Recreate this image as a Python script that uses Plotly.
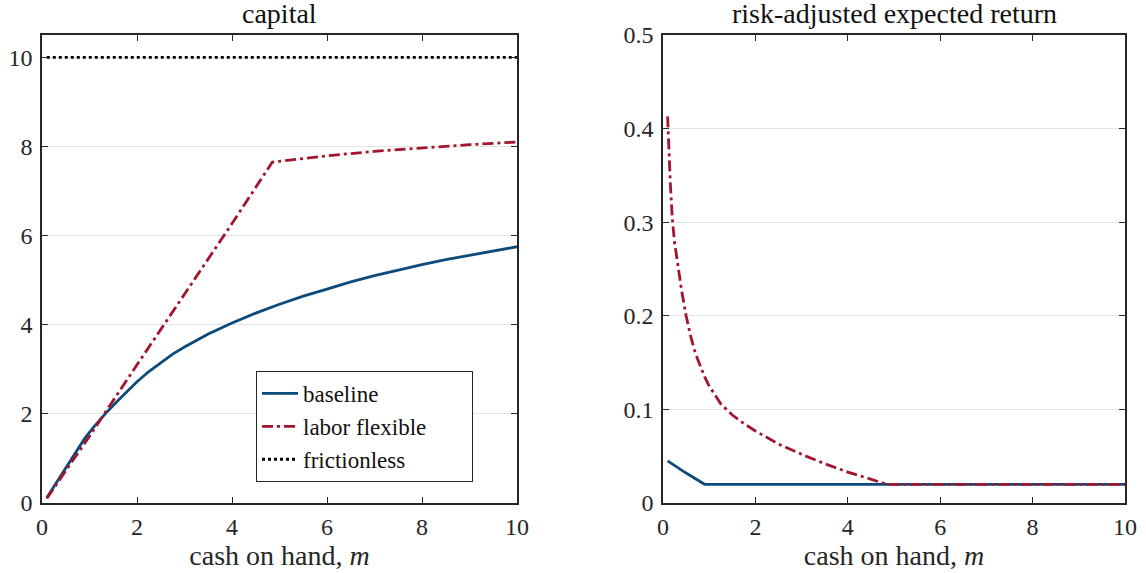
import plotly.graph_objects as go

# ---- data ----
m_base_cap = [0.1, 0.3, 0.5, 0.7, 0.9, 1.1, 1.33, 1.6, 2.0, 2.25, 2.5, 2.75, 3.0, 3.5, 4.0, 4.5, 5.0, 5.5, 6.0, 6.5, 7.0, 7.5, 8.0, 8.5, 9.0, 9.5, 10.0]
k_base = [0.12, 0.45, 0.78, 1.12, 1.45, 1.72, 2.0, 2.3, 2.72, 2.95, 3.15, 3.34, 3.5, 3.79, 4.04, 4.26, 4.46, 4.64, 4.8, 4.96, 5.1, 5.23, 5.35, 5.46, 5.56, 5.66, 5.75]

m_flex_cap = [0.1, 1.0, 2.0, 3.0, 4.0, 4.85, 6.0, 7.0, 8.0, 9.0, 10.0]
k_flex = [0.1, 1.5, 3.1, 4.68, 6.27, 7.65, 7.79, 7.89, 7.97, 8.04, 8.1]

m_fric = [0.1, 10.0]
k_fric = [10.0, 10.0]

m_base_ret = [0.1, 0.5, 0.9, 2.0, 4.0, 6.0, 8.0, 10.0]
r_base = [0.045, 0.032, 0.02, 0.02, 0.02, 0.02, 0.02, 0.02]

m_flex_ret = [0.1, 0.13, 0.16, 0.2, 0.25, 0.3, 0.4, 0.5, 0.6, 0.7, 0.8, 0.9, 1.0, 1.25, 1.5, 1.75, 2.0, 2.5, 3.0, 3.5, 4.0, 4.5, 4.85, 6.0, 8.0, 10.0]
r_flex = [0.413, 0.37, 0.34, 0.305, 0.278, 0.262, 0.228, 0.2, 0.178, 0.16, 0.147, 0.135, 0.125, 0.106, 0.094, 0.085, 0.077, 0.063, 0.052, 0.042, 0.033, 0.025, 0.02, 0.02, 0.02, 0.02]

series_names = ["baseline", "labor flexible", "frictionless"]
left_yticks = [0, 2, 4, 6, 8, 10]
right_yticks = [0, 0.1, 0.2, 0.3, 0.4, 0.5]
right_yticklabels = ["0", "0.1", "0.2", "0.3", "0.4", "0.5"]
xticks = [0, 2, 4, 6, 8, 10]

BLUE = "#0d4a7c"
RED = "#a3152e"
FONT = "Liberation Serif"
DASHDOT = "11px,4px,3px,4px"

W, H = 1146, 573


def fx(p):
    return p / W


def fy(p):
    return 1 - p / H


PAD = "&nbsp;" * 7

fig = go.Figure()
fig.add_trace(go.Scatter(x=m_base_cap, y=k_base, mode="lines", name=series_names[0],
                         line=dict(color=BLUE, width=2.8), xaxis="x", yaxis="y"))
fig.add_trace(go.Scatter(x=m_flex_cap, y=k_flex, mode="lines", name=series_names[1] + PAD,
                         line=dict(color=RED, width=2.8, dash=DASHDOT), xaxis="x", yaxis="y"))
fig.add_trace(go.Scatter(x=m_fric, y=k_fric, mode="lines", name=series_names[2],
                         line=dict(color="black", width=2.8, dash="3px,3px"), xaxis="x", yaxis="y"))
fig.add_trace(go.Scatter(x=m_base_ret, y=r_base, mode="lines", showlegend=False,
                         line=dict(color=BLUE, width=2.8), xaxis="x2", yaxis="y2"))
fig.add_trace(go.Scatter(x=m_flex_ret, y=r_flex, mode="lines", showlegend=False,
                         line=dict(color=RED, width=2.8, dash=DASHDOT), xaxis="x2", yaxis="y2"))

axcommon = dict(showline=True, linecolor="#262626", linewidth=1.5, mirror="ticks",
                ticks="inside", ticklen=6, tickcolor="#262626", tickwidth=1.2,
                zeroline=False, automargin=False,
                tickfont=dict(family=FONT, size=24, color="#262626"))
xtitle = dict(text="cash on hand, <i>m</i>", font=dict(family=FONT, size=28, color="#262626"), standoff=0)

fig.update_layout(
    width=W, height=H,
    margin=dict(l=0, r=0, t=0, b=0),
    paper_bgcolor="white", plot_bgcolor="white",
    font=dict(family=FONT, color="#262626"),
    xaxis=dict(domain=[fx(42), fx(517)], range=[0, 10], tickvals=xticks,
               showgrid=False, anchor="y", title=xtitle, ticklabelstandoff=1, **axcommon),
    yaxis=dict(domain=[fy(503), fy(35)], range=[0, 10.5], tickvals=left_yticks,
               showgrid=True, gridcolor="#e3e3e3", gridwidth=1.2, anchor="x",
               ticklabelstandoff=3, **axcommon),
    xaxis2=dict(domain=[fx(663), fx(1125)], range=[0, 10], tickvals=xticks,
                showgrid=False, anchor="y2", title=xtitle, ticklabelstandoff=1, **axcommon),
    yaxis2=dict(domain=[fy(503), fy(35)], range=[0, 0.5], tickvals=right_yticks, ticktext=right_yticklabels,
                showgrid=True, gridcolor="#e3e3e3", gridwidth=1.2, anchor="x2",
                ticklabelstandoff=3, **axcommon),
    legend=dict(x=fx(473), xanchor="right", y=fy(371), yanchor="top",
                bgcolor="white", bordercolor="#262626", borderwidth=1,
                font=dict(family=FONT, size=23, color="#111"),
                itemwidth=36, tracegroupgap=0),
    annotations=[
        dict(text="capital", x=fx((42 + 517) / 2), y=fy(31), xref="paper", yref="paper",
             showarrow=False, font=dict(family=FONT, size=28, color="#111"),
             xanchor="center", yanchor="bottom"),
        dict(text="risk-adjusted expected return", x=fx((663 + 1125) / 2), y=fy(31),
             xref="paper", yref="paper", showarrow=False,
             font=dict(family=FONT, size=28, color="#111"), xanchor="center", yanchor="bottom"),
    ],
)

fig.write_html("out.html", config={"displayModeBar": False},
               post_script="document.body.style.margin='0';")
